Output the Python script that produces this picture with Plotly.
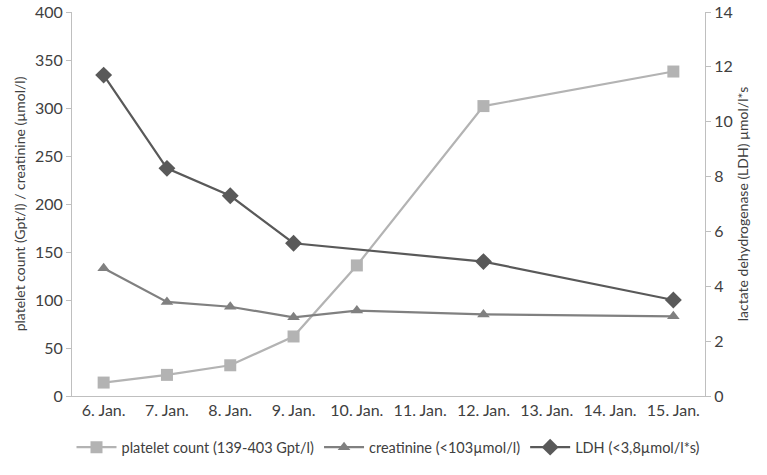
import plotly.graph_objects as go

categories = ["6. Jan.", "7. Jan.", "8. Jan.", "9. Jan.", "10. Jan.", "11. Jan.",
              "12. Jan.", "13. Jan.", "14. Jan.", "15. Jan."]
platelet = [14, 22, 32, 62, 136, None, 302, None, None, 338]
creatinine = [133, 98, 93, 82, 89, None, 85, None, None, 83]
ldh = [11.7, 8.3, 7.3, 5.57, None, None, 4.9, None, None, 3.5]

FONT = "Lato, Carlito, 'Open Sans', sans-serif"

fig = go.Figure()
fig.add_trace(go.Scatter(
    x=categories, y=platelet, name="platelet count (139-403 Gpt/l)",
    mode="lines+markers", connectgaps=True,
    line=dict(color="#b3b3b3", width=2.2),
    marker=dict(symbol="square", size=12, color="#b3b3b3")))
fig.add_trace(go.Scatter(
    x=categories, y=creatinine, name="creatinine (<103µmol/l)",
    mode="lines+markers", connectgaps=True,
    line=dict(color="#808080", width=2.2),
    marker=dict(symbol="triangle-up", size=11, color="#808080")))
fig.add_trace(go.Scatter(
    x=categories, y=ldh, name="LDH (<3,8µmol/l*s)", yaxis="y2",
    mode="lines+markers", connectgaps=True,
    line=dict(color="#595959", width=2.2),
    marker=dict(symbol="diamond", size=13, color="#595959")))

fig.update_layout(
    width=767, height=475,
    margin=dict(l=72, r=62, t=12, b=76),
    paper_bgcolor="white", plot_bgcolor="white",
    font=dict(family=FONT, color="#404040", size=15),
    showlegend=True,
    legend=dict(orientation="h", x=0.5, xanchor="center", y=-0.175, yanchor="bottom",
                font=dict(size=14.5), itemwidth=40),
    xaxis=dict(type="category", categoryarray=categories, range=[-0.5, 9.5],
               showgrid=False, showline=True, linecolor="#bfbfbf", linewidth=1,
               ticks="", tickfont=dict(size=16), zeroline=False, automargin=False),
    yaxis=dict(range=[0, 400], dtick=50, showgrid=False, showline=True,
               linecolor="#bfbfbf", linewidth=1, ticks="outside", ticklen=5,
               tickcolor="#bfbfbf", zeroline=False, tickfont=dict(size=16),
               automargin=False,
               title=dict(text="platelet count (Gpt/l) / creatinine (µmol/l)",
                          font=dict(size=14), standoff=6)),
    yaxis2=dict(range=[0, 14], dtick=2, overlaying="y", side="right",
                showgrid=False, showline=True, linecolor="#bfbfbf", linewidth=1,
                ticks="outside", ticklen=5, tickcolor="#bfbfbf", zeroline=False,
                tickfont=dict(size=16), automargin=False,
                title=dict(text="lactate dehydrogenase (LDH) µmol/l*s",
                           font=dict(size=14), standoff=6)),
)

fig.write_html("out.html", config={"displayModeBar": False},
               post_script="document.body.style.margin='0';")
